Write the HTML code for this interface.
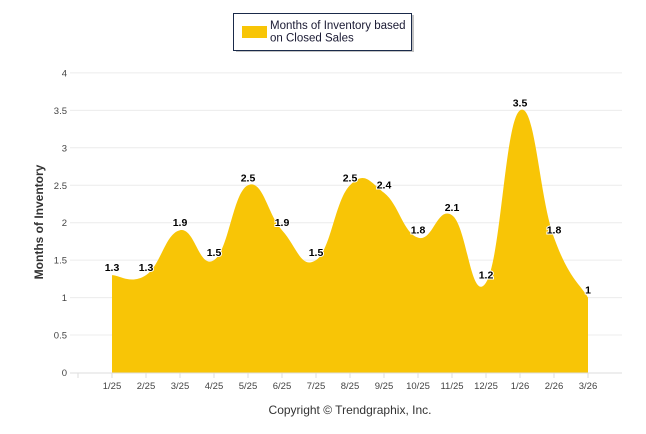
<!DOCTYPE html>
<html><head><meta charset="utf-8"><style>
body{margin:0;background:#fff;}
svg{display:block;font-family:"Liberation Sans",sans-serif;}
</style></head><body>
<svg id="c" width="646" height="434">
<g id="grid"></g>
<g id="area"></g>
<g id="labels"></g>
<g id="axes"></g>
<text x="43" y="222" transform="rotate(-90 43 222)" text-anchor="middle" font-size="12" font-weight="bold" fill="#333">Months of Inventory</text>
<text x="350" y="414" text-anchor="middle" font-size="12" fill="#333">Copyright © Trendgraphix, Inc.</text>
<g>
<rect x="236" y="15" width="178" height="37" fill="#888" opacity="0.5"/>
<rect x="233.5" y="13.5" width="178" height="37" fill="#fff" stroke="#1a2a4a" stroke-width="1"/>
<rect x="242" y="26" width="25" height="12" fill="#f8c506"/>
<text x="270" y="29" font-size="11.5" fill="#1a1a33"><tspan x="270" dy="0">Months of Inventory based</tspan><tspan x="270" dy="12.5">on Closed Sales</tspan></text>
</g>
</svg>
<script>
const categories=["1/25","2/25","3/25","4/25","5/25","6/25","7/25","8/25","9/25","10/25","11/25","12/25","1/26","2/26","3/26"];
const values=[1.3,1.3,1.9,1.5,2.5,1.9,1.5,2.5,2.4,1.8,2.1,1.2,3.5,1.8,1];
const yTicks=[0,0.5,1,1.5,2,2.5,3,3.5,4];
const NS="http://www.w3.org/2000/svg";
const x0=112,dx=34,yb=372.5,ppu=74.9;
const X=i=>x0+i*dx, Y=v=>yb-v*ppu;
function el(t,a,p){const e=document.createElementNS(NS,t);for(const k in a)e.setAttribute(k,a[k]);p.appendChild(e);return e;}
const grid=document.getElementById('grid'),axes=document.getElementById('axes');
yTicks.forEach(t=>{
 if(t>0){const l=el('line',{x1:70,x2:622,y1:Y(t),y2:Y(t),stroke:'#ececec'},grid);
 
 }
 const tx=el('text',{x:67,y:Y(t)+3.5,'text-anchor':'end','font-size':'9.5',fill:'#444'},axes);
 tx.textContent=t;
 
 
});
el('line',{x1:70,x2:622,y1:373,y2:373,stroke:'#ddd'},axes);
for(let i=-1;i<categories.length;i++){el('line',{x1:X(i),x2:X(i),y1:373,y2:378,stroke:'#ddd'},axes);}
categories.forEach((c,i)=>{const t=el('text',{x:X(i),y:389,'text-anchor':'middle','font-size':'9.5',fill:'#444'},axes);
 t.textContent=c;
 
 });
// cardinal spline, no clamping
const pts=values.map((v,i)=>[X(i),Y(v)]);
function ctrl(i){const p=pts[i],a=pts[i-1]||p,b=pts[i+1]||p;
 const k=0.22;const tx=(b[0]-a[0])*k,ty=(b[1]-a[1])*k;
 return[[p[0]-tx,p[1]-ty],[p[0]+tx,p[1]+ty]];}
const cs=pts.map((p,i)=>ctrl(i));
let d=`M${pts[0][0]},${yb} L${pts[0][0]},${pts[0][1]}`;
for(let i=1;i<pts.length;i++){const c1=cs[i-1][1],c2=cs[i][0];d+=` C${c1[0]},${c1[1]} ${c2[0]},${c2[1]} ${pts[i][0]},${pts[i][1]}`;}
d+=` L${pts[pts.length-1][0]},${yb} Z`;
const area=el('path',{d:d,fill:'#f8c506'},document.getElementById('area'));


const lab=document.getElementById('labels');
values.forEach((v,i)=>{const t=el('text',{x:X(i),y:Y(v)-4,'text-anchor':'middle','font-size':'10.5','font-weight':'bold',fill:'#000',stroke:'#fff','stroke-width':'2','paint-order':'stroke'},lab);
 t.textContent=v;
 
 });
</script>
</body></html>
